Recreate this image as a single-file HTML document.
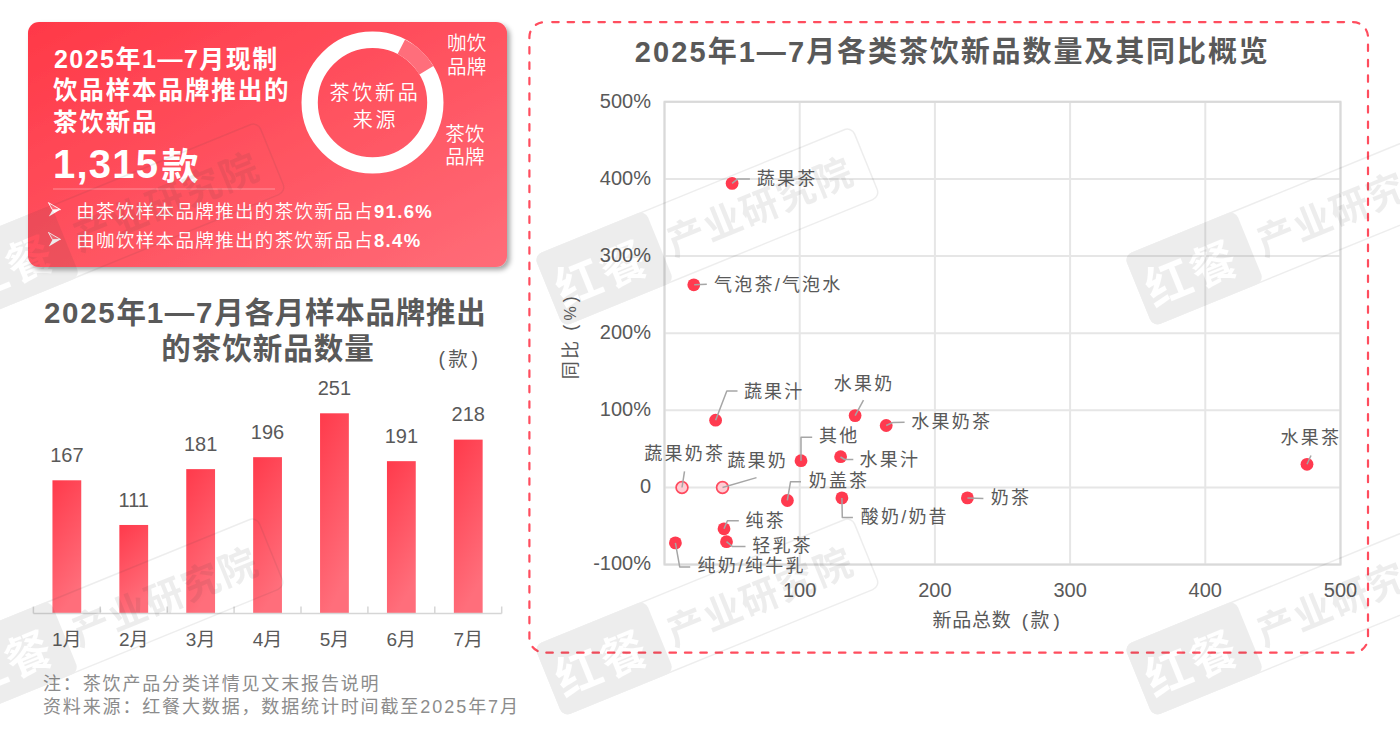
<!DOCTYPE html>
<html><head><meta charset="utf-8"><title>茶饮新品</title>
<style>
html,body{margin:0;padding:0;background:#fff;width:1400px;height:731px;overflow:hidden}
svg{display:block}
text{font-family:"Liberation Sans","Noto Sans CJK SC",sans-serif}
</style></head>
<body>
<svg width="1400" height="731" viewBox="0 0 1400 731">
<defs>
<linearGradient id="cardg" x1="0" y1="0" x2="1" y2="1"><stop offset="0" stop-color="#ff3847"/><stop offset="1" stop-color="#ff6c78"/></linearGradient>
<linearGradient id="barg" x1="0" y1="0" x2="0.3" y2="1"><stop offset="0" stop-color="#ff3a4b"/><stop offset="1" stop-color="#ff6e7b"/></linearGradient>
<filter id="sh" x="-5%" y="-5%" width="115%" height="120%"><feDropShadow dx="3" dy="3" stdDeviation="2.5" flood-color="#000" flood-opacity="0.35"/></filter>
<mask id="wmm" maskUnits="userSpaceOnUse" x="-20" y="-20" width="400" height="120"><rect x="-20" y="-20" width="400" height="120" fill="#fff"/><text x="8" y="59" font-size="46" font-weight="bold" fill="#000" letter-spacing="2">红餐</text></mask>
<g id="wm" opacity="0.085">
<rect x="0" y="0" width="120" height="77" rx="8" fill="#3c3c3c" mask="url(#wmm)"/>
<rect x="0.75" y="0.75" width="342" height="75.5" rx="8" fill="none" stroke="#3c3c3c" stroke-width="1.5"/>
<text x="129" y="54" font-size="38" font-weight="bold" fill="#3c3c3c" letter-spacing="1.5">产业研究院</text>
</g>
</defs>
<rect x="28" y="22" width="479" height="245" rx="11" fill="url(#cardg)" filter="url(#sh)"/>
<text x="53.9" y="67.9" font-size="25" font-weight="bold" letter-spacing="1.5" fill="#ffffff" text-anchor="start" >2025年1—7月现制</text>
<text x="52.9" y="99" font-size="24.5" font-weight="bold" letter-spacing="1.9" fill="#ffffff" text-anchor="start" >饮品样本品牌推出的</text>
<text x="52.9" y="131" font-size="24.5" font-weight="bold" letter-spacing="1.9" fill="#ffffff" text-anchor="start" >茶饮新品</text>
<text x="53" y="178.3" font-weight="bold" fill="#fff"><tspan font-size="40" letter-spacing="1.2">1,315</tspan><tspan font-size="37" dx="2.5" dy="1.5">款</tspan></text>
<line x1="53" y1="189" x2="275" y2="189" stroke="rgba(255,255,255,0.25)" stroke-width="1.5"/>
<path d="M48.4 202.6 L60.5 209.6 L52.5 209.9 Z" fill="rgba(255,255,255,0.15)" stroke="#fff" stroke-width="0.9" stroke-linejoin="round"/>
<path d="M52.5 209.9 L60.5 209.6 L48.8 216.6 Z" fill="#fff"/>
<text x="76.2" y="217.6" font-size="18.5" font-weight="350" letter-spacing="1.35" fill="#fff">由茶饮样本品牌推出的茶饮新品占<tspan font-weight="bold">91.6%</tspan></text>
<path d="M48.4 232.4 L60.5 239.4 L52.5 239.70000000000002 Z" fill="rgba(255,255,255,0.15)" stroke="#fff" stroke-width="0.9" stroke-linejoin="round"/>
<path d="M52.5 239.70000000000002 L60.5 239.4 L48.8 246.4 Z" fill="#fff"/>
<text x="76.2" y="247.4" font-size="18.5" font-weight="350" letter-spacing="1.35" fill="#fff">由咖饮样本品牌推出的茶饮新品占<tspan font-weight="bold">8.4%</tspan></text>
<circle cx="372.5" cy="102.6" r="62.85" fill="none" stroke="#fff" stroke-width="16.3"/>
<path d="M405.06 39.51 A71 71 0 0 1 433.36 66.03 L419.39 74.43 A54.7 54.7 0 0 0 397.59 53.99 Z" fill="#ff6e7b"/>
<text x="375" y="99.7" font-size="20" font-weight="350" letter-spacing="2.8" fill="#ffffff" text-anchor="middle" >茶饮新品</text>
<text x="375.5" y="126.6" font-size="20" font-weight="350" letter-spacing="2.8" fill="#ffffff" text-anchor="middle" >来源</text>
<text x="447" y="49.6" font-size="19.5" font-weight="350" letter-spacing="0.2" fill="#ffffff" text-anchor="start" >咖饮</text>
<text x="447" y="73.6" font-size="19.5" font-weight="350" letter-spacing="0.2" fill="#ffffff" text-anchor="start" >品牌</text>
<text x="445.3" y="141.3" font-size="19.5" font-weight="350" letter-spacing="0.2" fill="#ffffff" text-anchor="start" >茶饮</text>
<text x="445.3" y="163.9" font-size="19.5" font-weight="350" letter-spacing="0.2" fill="#ffffff" text-anchor="start" >品牌</text>
<text x="44" y="322.5" font-size="29.5" font-weight="bold" fill="#595959" text-anchor="start"><tspan letter-spacing="1.7">2025</tspan><tspan letter-spacing="0.75">年</tspan><tspan letter-spacing="1.7">1—7</tspan><tspan letter-spacing="0.75">月各月样本品牌推出</tspan></text>
<text x="268" y="358.5" font-size="29.5" font-weight="bold" letter-spacing="1" fill="#595959" text-anchor="middle" >的茶饮新品数量</text>
<text x="438.5" y="365.5" font-size="19.5" font-weight="normal" letter-spacing="0" fill="#595959" text-anchor="start" >(</text>
<text x="448.3" y="366" font-size="19.5" font-weight="normal" letter-spacing="0" fill="#595959" text-anchor="start" >款</text>
<text x="471.5" y="365.5" font-size="19.5" font-weight="normal" letter-spacing="0" fill="#595959" text-anchor="start" >)</text>
<rect x="52.45" y="480.30" width="28.8" height="133.20" fill="url(#barg)"/>
<text x="66.85" y="461.9" font-size="20" font-weight="normal" letter-spacing="0" fill="#595959" text-anchor="middle" >167</text>
<text x="66.85" y="645.8" font-size="19" font-weight="normal" letter-spacing="0" fill="#595959" text-anchor="middle" >1月</text>
<rect x="119.35" y="524.97" width="28.8" height="88.53" fill="url(#barg)"/>
<text x="133.75" y="506.57" font-size="20" font-weight="normal" letter-spacing="0" fill="#595959" text-anchor="middle" >111</text>
<text x="133.75" y="645.8" font-size="19" font-weight="normal" letter-spacing="0" fill="#595959" text-anchor="middle" >2月</text>
<rect x="186.25" y="469.13" width="28.8" height="144.37" fill="url(#barg)"/>
<text x="200.65" y="450.73" font-size="20" font-weight="normal" letter-spacing="0" fill="#595959" text-anchor="middle" >181</text>
<text x="200.65" y="645.8" font-size="19" font-weight="normal" letter-spacing="0" fill="#595959" text-anchor="middle" >3月</text>
<rect x="253.15" y="457.17" width="28.8" height="156.33" fill="url(#barg)"/>
<text x="267.55" y="438.77" font-size="20" font-weight="normal" letter-spacing="0" fill="#595959" text-anchor="middle" >196</text>
<text x="267.55" y="645.8" font-size="19" font-weight="normal" letter-spacing="0" fill="#595959" text-anchor="middle" >4月</text>
<rect x="320.05" y="413.30" width="28.8" height="200.20" fill="url(#barg)"/>
<text x="334.45" y="394.9" font-size="20" font-weight="normal" letter-spacing="0" fill="#595959" text-anchor="middle" >251</text>
<text x="334.45" y="645.8" font-size="19" font-weight="normal" letter-spacing="0" fill="#595959" text-anchor="middle" >5月</text>
<rect x="386.95" y="461.16" width="28.8" height="152.34" fill="url(#barg)"/>
<text x="401.35" y="442.76" font-size="20" font-weight="normal" letter-spacing="0" fill="#595959" text-anchor="middle" >191</text>
<text x="401.35" y="645.8" font-size="19" font-weight="normal" letter-spacing="0" fill="#595959" text-anchor="middle" >6月</text>
<rect x="453.85" y="439.62" width="28.8" height="173.88" fill="url(#barg)"/>
<text x="468.25" y="421.22" font-size="20" font-weight="normal" letter-spacing="0" fill="#595959" text-anchor="middle" >218</text>
<text x="468.25" y="645.8" font-size="19" font-weight="normal" letter-spacing="0" fill="#595959" text-anchor="middle" >7月</text>
<line x1="33.4" y1="613.5" x2="501.70000000000005" y2="613.5" stroke="#d6d6d6" stroke-width="1.5"/>
<line x1="33.40" y1="606.5" x2="33.40" y2="613.5" stroke="#d6d6d6" stroke-width="1.5"/>
<line x1="100.30" y1="606.5" x2="100.30" y2="613.5" stroke="#d6d6d6" stroke-width="1.5"/>
<line x1="167.20" y1="606.5" x2="167.20" y2="613.5" stroke="#d6d6d6" stroke-width="1.5"/>
<line x1="234.10" y1="606.5" x2="234.10" y2="613.5" stroke="#d6d6d6" stroke-width="1.5"/>
<line x1="301.00" y1="606.5" x2="301.00" y2="613.5" stroke="#d6d6d6" stroke-width="1.5"/>
<line x1="367.90" y1="606.5" x2="367.90" y2="613.5" stroke="#d6d6d6" stroke-width="1.5"/>
<line x1="434.80" y1="606.5" x2="434.80" y2="613.5" stroke="#d6d6d6" stroke-width="1.5"/>
<line x1="501.70" y1="606.5" x2="501.70" y2="613.5" stroke="#d6d6d6" stroke-width="1.5"/>
<text x="43" y="690" font-size="18" font-weight="normal" letter-spacing="1.85" fill="#8c8c8c" text-anchor="start" >注：茶饮产品分类详情见文末报告说明</text>
<text x="43" y="712.5" font-size="18" font-weight="normal" fill="#8c8c8c" text-anchor="start"><tspan letter-spacing="1.85">资料来源：红餐大数据，数据统计时间截至</tspan><tspan letter-spacing="2.0">2025</tspan><tspan letter-spacing="1.85">年</tspan><tspan letter-spacing="2.0">7</tspan><tspan letter-spacing="1.85">月</tspan></text>
<rect x="529.4" y="22.1" width="838.6" height="630.6" rx="15" fill="none" stroke="#ff4d5e" stroke-width="2.2" stroke-linecap="round" stroke-dasharray="6.5 8.9" stroke-dashoffset="7.6"/>
<text x="634.8" y="61.6" font-size="29" font-weight="bold" fill="#595959" text-anchor="start"><tspan letter-spacing="2.1">2025</tspan><tspan letter-spacing="1.9">年</tspan><tspan letter-spacing="2.1">1—7</tspan><tspan letter-spacing="1.9">月各类茶饮新品数量及其同比概览</tspan></text>
<line x1="664.50" y1="101.8" x2="664.50" y2="564.58" stroke="#e6e6e6" stroke-width="2"/>
<line x1="799.70" y1="101.8" x2="799.70" y2="564.58" stroke="#e6e6e6" stroke-width="2"/>
<line x1="934.90" y1="101.8" x2="934.90" y2="564.58" stroke="#e6e6e6" stroke-width="2"/>
<line x1="1070.10" y1="101.8" x2="1070.10" y2="564.58" stroke="#e6e6e6" stroke-width="2"/>
<line x1="1205.30" y1="101.8" x2="1205.30" y2="564.58" stroke="#e6e6e6" stroke-width="2"/>
<line x1="1340.50" y1="101.8" x2="1340.50" y2="564.58" stroke="#e6e6e6" stroke-width="2"/>
<line x1="664.5" y1="101.80" x2="1340.50" y2="101.80" stroke="#e6e6e6" stroke-width="2"/>
<line x1="664.5" y1="178.93" x2="1340.50" y2="178.93" stroke="#e6e6e6" stroke-width="2"/>
<line x1="664.5" y1="256.06" x2="1340.50" y2="256.06" stroke="#e6e6e6" stroke-width="2"/>
<line x1="664.5" y1="333.19" x2="1340.50" y2="333.19" stroke="#e6e6e6" stroke-width="2"/>
<line x1="664.5" y1="410.32" x2="1340.50" y2="410.32" stroke="#e6e6e6" stroke-width="2"/>
<line x1="664.5" y1="487.45" x2="1340.50" y2="487.45" stroke="#e6e6e6" stroke-width="2"/>
<line x1="664.5" y1="564.58" x2="1340.50" y2="564.58" stroke="#e6e6e6" stroke-width="2"/>
<rect x="664.5" y="101.8" width="676.00" height="462.78" fill="none" stroke="#d9d9d9" stroke-width="2"/>
<text x="651" y="107.6" font-size="20" font-weight="normal" letter-spacing="0" fill="#595959" text-anchor="end" >500%</text>
<text x="651" y="184.73" font-size="20" font-weight="normal" letter-spacing="0" fill="#595959" text-anchor="end" >400%</text>
<text x="651" y="261.86" font-size="20" font-weight="normal" letter-spacing="0" fill="#595959" text-anchor="end" >300%</text>
<text x="651" y="338.99" font-size="20" font-weight="normal" letter-spacing="0" fill="#595959" text-anchor="end" >200%</text>
<text x="651" y="416.12" font-size="20" font-weight="normal" letter-spacing="0" fill="#595959" text-anchor="end" >100%</text>
<text x="651" y="493.25" font-size="20" font-weight="normal" letter-spacing="0" fill="#595959" text-anchor="end" >0</text>
<text x="651" y="570.38" font-size="20" font-weight="normal" letter-spacing="0" fill="#595959" text-anchor="end" >-100%</text>
<text x="799.7" y="596.7" font-size="20" font-weight="normal" letter-spacing="0" fill="#595959" text-anchor="middle" >100</text>
<text x="934.9" y="596.7" font-size="20" font-weight="normal" letter-spacing="0" fill="#595959" text-anchor="middle" >200</text>
<text x="1070.1" y="596.7" font-size="20" font-weight="normal" letter-spacing="0" fill="#595959" text-anchor="middle" >300</text>
<text x="1205.3" y="596.7" font-size="20" font-weight="normal" letter-spacing="0" fill="#595959" text-anchor="middle" >400</text>
<text x="1340.5" y="596.7" font-size="20" font-weight="normal" letter-spacing="0" fill="#595959" text-anchor="middle" >500</text>
<text x="932.4" y="627.3" font-size="19" font-weight="normal" letter-spacing="0.8" fill="#595959" text-anchor="start" >新品总数</text>
<text x="1021.8" y="626.5" font-size="19" font-weight="normal" letter-spacing="0" fill="#595959" text-anchor="start" >(</text>
<text x="1030.5" y="627.3" font-size="19" font-weight="normal" letter-spacing="0" fill="#595959" text-anchor="start" >款</text>
<text x="1053.6" y="626.5" font-size="19" font-weight="normal" letter-spacing="0" fill="#595959" text-anchor="start" >)</text>
<g transform="translate(576.6,379.2) rotate(-90)" fill="#595959"><text x="0" y="0" font-size="18" letter-spacing="2.3">同比</text><text x="48.5" y="-0.6" font-size="18">(</text><text x="58.6" y="-1" font-size="16">%</text><text x="77" y="-0.6" font-size="18">)</text></g>
<circle cx="732.1" cy="183.4" r="6.4" fill="#ff3a4f"/>
<circle cx="693.8" cy="284.8" r="6.4" fill="#ff3a4f"/>
<circle cx="715.6" cy="420.2" r="6.4" fill="#ff3a4f"/>
<circle cx="855.1" cy="415.6" r="6.4" fill="#ff3a4f"/>
<circle cx="886.2" cy="425.5" r="6.4" fill="#ff3a4f"/>
<circle cx="801" cy="460.7" r="6.4" fill="#ff3a4f"/>
<circle cx="840.6" cy="456.7" r="6.4" fill="#ff3a4f"/>
<circle cx="787.4" cy="500.5" r="6.4" fill="#ff3a4f"/>
<circle cx="841.9" cy="497.9" r="6.4" fill="#ff3a4f"/>
<circle cx="967.4" cy="497.9" r="6.4" fill="#ff3a4f"/>
<circle cx="724" cy="528.8" r="6.4" fill="#ff3a4f"/>
<circle cx="726.5" cy="541.7" r="6.4" fill="#ff3a4f"/>
<circle cx="675.4" cy="542.9" r="6.4" fill="#ff3a4f"/>
<circle cx="1307" cy="464.3" r="6.4" fill="#ff3a4f"/>
<circle cx="682" cy="487.5" r="5.9" fill="#ffccd3" stroke="#ff4a5e" stroke-width="1.7"/>
<circle cx="722.5" cy="487.5" r="5.9" fill="#ffccd3" stroke="#ff4a5e" stroke-width="1.7"/>
<path d="M732.1 183.4 L737.4 179.1 L749.9 179.1" fill="none" stroke="#a6a6a6" stroke-width="1.5" stroke-linejoin="round"/>
<path d="M694.2 284.8 L706.8 284.3" fill="none" stroke="#a6a6a6" stroke-width="1.5" stroke-linejoin="round"/>
<path d="M715.6 420.2 L726.8 391 L737.5 391" fill="none" stroke="#a6a6a6" stroke-width="1.5" stroke-linejoin="round"/>
<path d="M855.1 415.6 L863.5 400.1" fill="none" stroke="#a6a6a6" stroke-width="1.5" stroke-linejoin="round"/>
<path d="M886.2 425.5 L893 422.4 L904.6 422.2" fill="none" stroke="#a6a6a6" stroke-width="1.5" stroke-linejoin="round"/>
<path d="M801 460.7 L801 437.2 L812.2 437.2" fill="none" stroke="#a6a6a6" stroke-width="1.5" stroke-linejoin="round"/>
<path d="M840.5 457 L844.7 459.5 L853.3 459.5" fill="none" stroke="#a6a6a6" stroke-width="1.5" stroke-linejoin="round"/>
<path d="M682 487.5 L684.5 471.3" fill="none" stroke="#a6a6a6" stroke-width="1.5" stroke-linejoin="round"/>
<path d="M722.5 487.5 L756.5 477.6" fill="none" stroke="#a6a6a6" stroke-width="1.5" stroke-linejoin="round"/>
<path d="M787.3 500.3 L790.5 481.8 L801 481.8" fill="none" stroke="#a6a6a6" stroke-width="1.5" stroke-linejoin="round"/>
<path d="M841.9 497.9 L842.3 517.6 L852.9 517.6" fill="none" stroke="#a6a6a6" stroke-width="1.5" stroke-linejoin="round"/>
<path d="M967.4 497.9 L983.4 498.4" fill="none" stroke="#a6a6a6" stroke-width="1.5" stroke-linejoin="round"/>
<path d="M724 528.8 L727.4 520.8 L738.8 520.8" fill="none" stroke="#a6a6a6" stroke-width="1.5" stroke-linejoin="round"/>
<path d="M726.5 541.7 L732.6 546.6 L745.5 546.6" fill="none" stroke="#a6a6a6" stroke-width="1.5" stroke-linejoin="round"/>
<path d="M675.4 542.9 L679.7 566.9 L690.2 566.9" fill="none" stroke="#a6a6a6" stroke-width="1.5" stroke-linejoin="round"/>
<path d="M1307 464.3 L1311 455.5" fill="none" stroke="#a6a6a6" stroke-width="1.5" stroke-linejoin="round"/>
<text x="756.8" y="184.8" font-size="18" font-weight="normal" letter-spacing="2.2" fill="#595959" text-anchor="start" >蔬果茶</text>
<text x="714.1" y="290.5" font-size="18" font-weight="normal" letter-spacing="2.2" fill="#595959" text-anchor="start" >气泡茶/气泡水</text>
<text x="743.9" y="397.7" font-size="18" font-weight="normal" letter-spacing="2.2" fill="#595959" text-anchor="start" >蔬果汁</text>
<text x="833.8" y="389.9" font-size="18" font-weight="normal" letter-spacing="2.2" fill="#595959" text-anchor="start" >水果奶</text>
<text x="911.3" y="428.4" font-size="18" font-weight="normal" letter-spacing="2.2" fill="#595959" text-anchor="start" >水果奶茶</text>
<text x="819.0" y="442.1" font-size="18" font-weight="normal" letter-spacing="2.2" fill="#595959" text-anchor="start" >其他</text>
<text x="859.6" y="465.5" font-size="18" font-weight="normal" letter-spacing="2.2" fill="#595959" text-anchor="start" >水果汁</text>
<text x="644.3" y="460.0" font-size="18" font-weight="normal" letter-spacing="2.2" fill="#595959" text-anchor="start" >蔬果奶茶</text>
<text x="727.3" y="467.1" font-size="18" font-weight="normal" letter-spacing="2.2" fill="#595959" text-anchor="start" >蔬果奶</text>
<text x="808.7" y="487.4" font-size="18" font-weight="normal" letter-spacing="2.2" fill="#595959" text-anchor="start" >奶盖茶</text>
<text x="860.8" y="523.4" font-size="18" font-weight="normal" letter-spacing="2.2" fill="#595959" text-anchor="start" >酸奶/奶昔</text>
<text x="990.8" y="503.9" font-size="18" font-weight="normal" letter-spacing="2.2" fill="#595959" text-anchor="start" >奶茶</text>
<text x="745.5" y="526.6" font-size="18" font-weight="normal" letter-spacing="2.2" fill="#595959" text-anchor="start" >纯茶</text>
<text x="752.2" y="552.4" font-size="18" font-weight="normal" letter-spacing="2.2" fill="#595959" text-anchor="start" >轻乳茶</text>
<text x="697.5" y="572.1" font-size="18" font-weight="normal" letter-spacing="2.2" fill="#595959" text-anchor="start" >纯奶/纯牛乳</text>
<text x="1280.6" y="444.3" font-size="18" font-weight="normal" letter-spacing="2.2" fill="#595959" text-anchor="start" >水果茶</text>
<use href="#wm" transform="translate(-60,250.5) rotate(-22.2)"/>
<use href="#wm" transform="translate(534,255.5) rotate(-22.2)"/>
<use href="#wm" transform="translate(1124,255.5) rotate(-22.2)"/>
<use href="#wm" transform="translate(-61,645.5) rotate(-22.2)"/>
<use href="#wm" transform="translate(534,645.5) rotate(-22.2)"/>
<use href="#wm" transform="translate(1124,645.5) rotate(-22.2)"/>
</svg>
</body></html>
